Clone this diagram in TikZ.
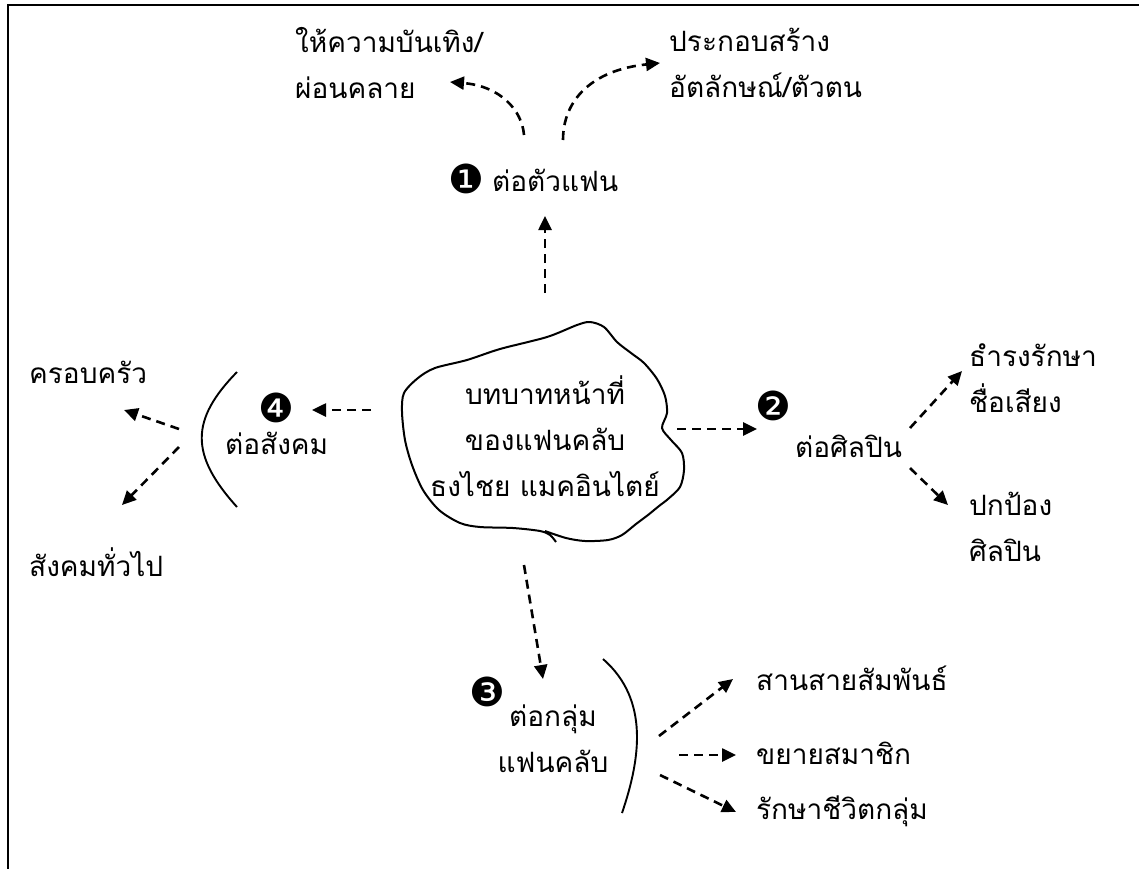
\documentclass[tikz,border=0pt]{standalone}
\usepackage{fontspec}
\newfontfamily\thaifont[Script=Thai]{Loma}
\newfontfamily\dingfont{DejaVu Sans}
\usetikzlibrary{arrows.meta}
\begin{document}
\begin{tikzpicture}[x=1pt,y=-1pt,
 lbl/.style={font=\thaifont\fontsize{28}{46}\selectfont, align=left, inner sep=0pt, anchor=west},
 ctr/.style={font=\thaifont\fontsize{28}{46}\selectfont, align=center, inner sep=0pt},
 num/.style={font=\dingfont\fontsize{40}{40}\selectfont, inner sep=0pt},
 darr/.style={dash pattern=on 9pt off 6pt, line width=2.6pt, -{Triangle[length=14pt,width=13pt]}},
 brk/.style={line width=1.9pt}]
\useasboundingbox (0,0) rectangle (1139,868);
\draw[line width=2.6pt] (8,5) rectangle (1150,880);

% top
\node[lbl] (ent) at (295,63) {ให้ความบันเทิง/\\ผ่อนคลาย};
\node[lbl] (ident) at (669,63) {ประกอบสร้าง\\อัตลักษณ์/ตัวตน};
\node[num] (n1) at (466,179) {❶};
\node[lbl] (fan) at (492,180) {ต่อตัวแฟน};
\coordinate (c1s) at (524,135); \coordinate (c1e) at (450,82);
\coordinate (c2s) at (563,140); \coordinate (c2e) at (660,63);
\draw[darr] (c1s) .. controls (522,110) and (500,86) .. (c1e);
\draw[darr] (c2s) .. controls (563,100) and (592,70) .. (c2e);
\coordinate (upS) at (545,293); \coordinate (upE) at (545,216);
\draw[darr] (upS) -- (upE);

% centre blob (hand-drawn outline, ends overlapping at the bottom)
\draw[line width=2pt] plot[smooth, tension=0.5] coordinates {
 (545,531) (566,538) (585,541) (608,540) (622,535) (636,524) (648,515) (659,506)
 (668,499) (680,487) (684,470) (682,453) (671,440) (662,428) (667,413) (665,396)
 (657,379) (644,363) (631,353) (617,342) (604,327) (590,322) (577,325) (547,337)
 (500,349) (467,360) (435,368) (418,378) (404,393) (402,412) (405,440) (412,465)
 (423,490) (439,510) (460,523) (480,527) (513,528) (540,531) (550,535) (556,542)};
\node[ctr] (core) at (545,436) {บทบาทหน้าที่\\ของแฟนคลับ\\ธงไชย แมคอินไตย์};

% right
\coordinate (rS) at (677,429); \coordinate (rE) at (757,429);
\draw[darr] (rS) -- (rE);
\node[num] (n2) at (773,406) {❷};
\node[lbl] (artist) at (795,446) {ต่อศิลปิน};
\coordinate (ruS) at (910,428); \coordinate (ruE) at (962,371);
\coordinate (rdS) at (910,468); \coordinate (rdE) at (948,505);
\draw[darr] (ruS) -- (ruE);
\draw[darr] (rdS) -- (rdE);
\node[lbl] (fame) at (969,378) {ธำรงรักษา\\ชื่อเสียง};
\node[lbl] (protect) at (969,527) {ปกป้อง\\ศิลปิน};

% left
\coordinate (lS) at (371,410); \coordinate (lE) at (312,410);
\draw[darr] (lS) -- (lE);
\node[num] (n4) at (276,408) {❹};
\node[lbl] (society) at (225,443) {ต่อสังคม};
\coordinate (lb1) at (237,372); \coordinate (lb2) at (237,507);
\draw[brk] (lb1) .. controls (190,420) and (190,455) .. (lb2);
\coordinate (luS) at (179,429); \coordinate (luE) at (124,410);
\coordinate (ldS) at (179,447); \coordinate (ldE) at (122,505);
\draw[darr] (luS) -- (luE);
\draw[darr] (ldS) -- (ldE);
\node[lbl] (family) at (29,372) {ครอบครัว};
\node[lbl] (public) at (29,562) {สังคมทั่วไป};

% bottom
\coordinate (dS) at (524,565); \coordinate (dE) at (543,679);
\draw[darr] (dS) -- (dE);
\node[num] (n3) at (487,692) {❸};
\node[ctr] (group) at (553,739) {ต่อกลุ่ม\\แฟนคลับ};
\coordinate (bb1) at (603,659); \coordinate (bb2) at (622,813);
\draw[brk] (bb1) .. controls (650,700) and (640,760) .. (bb2);
\coordinate (b1S) at (659,736); \coordinate (b1E) at (733,679);
\coordinate (b2S) at (679,755); \coordinate (b2E) at (736,755);
\coordinate (b3S) at (660,775); \coordinate (b3E) at (736,812);
\draw[darr] (b1S) -- (b1E);
\draw[darr] (b2S) -- (b2E);
\draw[darr] (b3S) -- (b3E);
\node[lbl] (bond) at (756,678) {สานสายสัมพันธ์};
\node[lbl] (expand) at (756,753) {ขยายสมาชิก};
\node[lbl] (keep) at (756,811) {รักษาชีวิตกลุ่ม};
\end{tikzpicture}
\end{document}
